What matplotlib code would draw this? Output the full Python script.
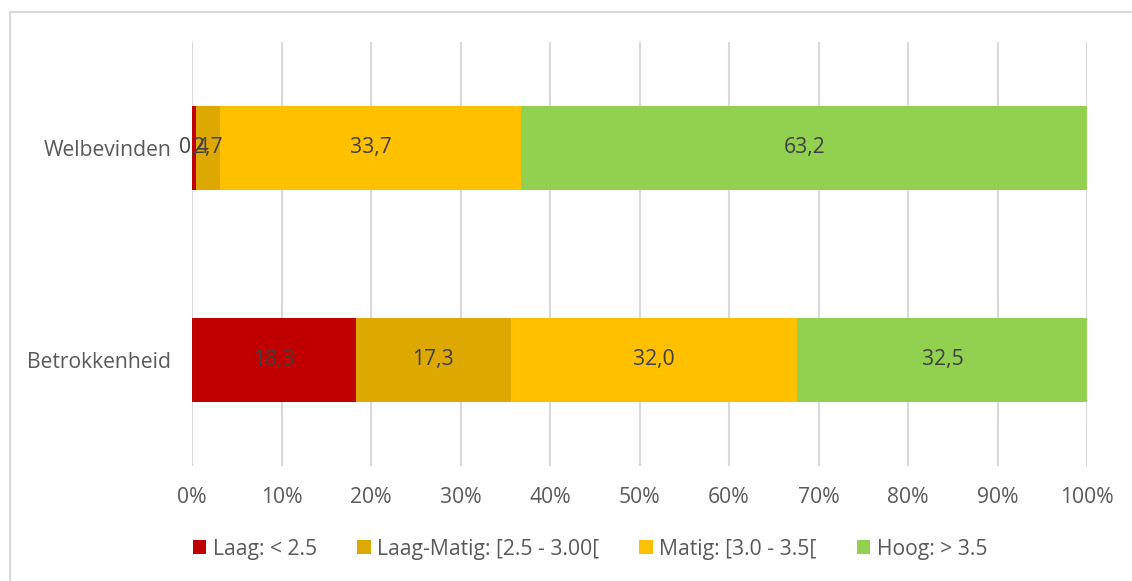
import matplotlib
matplotlib.use("Agg")
from matplotlib import pyplot as plt
from matplotlib.patches import Rectangle

categories = ["Betrokkenheid", "Welbevinden"]
series_names = ["Laag: < 2.5", "Laag-Matig: [2.5 - 3.00[", "Matig: [3.0 - 3.5[", "Hoog: > 3.5"]
laag = [18.3, 0.4]
laag_matig = [17.3, 2.7]
matig = [32.0, 33.7]
hoog = [32.5, 63.2]
colors = ["#C00000", "#DDA800", "#FFC000", "#92D050"]

plt.rcParams['font.family'] = ['Open Sans', 'DejaVu Sans']
fs = 15.2

fig = plt.figure(figsize=(11.32, 5.81), dpi=100)
ax = fig.add_axes([192 / 1132, 1 - 466 / 581, (1087 - 192) / 1132, (466 - 42) / 581])

# outer border of the chart area
fig.patches.append(Rectangle((10 / 1132, -0.05), 1.2, 1 - 12 / 581 + 0.05, transform=fig.transFigure,
                             fill=False, edgecolor="#D9D9D9", linewidth=1.5))

left = [0.0, 0.0]
for name, vals, col in zip(series_names, [laag, laag_matig, matig, hoog], colors):
    ax.barh(range(len(categories)), vals, left=left, height=0.4, color=col, label=name, zorder=3)
    for i, v in enumerate(vals):
        ax.text(left[i] + v / 2, i, f"{v:.1f}".replace(".", ","), ha="center", va="center",
                fontsize=fs, color="#404040", zorder=4)
    left = [a + b for a, b in zip(left, vals)]

ax.set_xlim(0, 100)
ax.set_ylim(-0.5, 1.5)
ax.set_xticks(range(0, 101, 10))
ax.set_xticklabels([f"{t}%" for t in range(0, 101, 10)])
ax.set_yticks(range(len(categories)))
ax.set_yticklabels(categories)
ax.tick_params(axis="x", length=0, pad=15, labelsize=fs, labelcolor="#595959")
ax.tick_params(axis="y", length=0, pad=15, labelsize=fs, labelcolor="#595959")
ax.grid(axis="x", color="#D9D9D9", linewidth=1.5, zorder=0)
for s in ax.spines.values():
    s.set_visible(False)

leg = fig.legend(loc="center", bbox_to_anchor=(590 / 1132, 1 - 549 / 581), ncol=4, frameon=False,
                 fontsize=fs, handlelength=0.65, handleheight=0.65, handletextpad=0.3,
                 columnspacing=1.9)
for t in leg.get_texts():
    t.set_color("#595959")

plt.savefig("out.png", dpi=100)
